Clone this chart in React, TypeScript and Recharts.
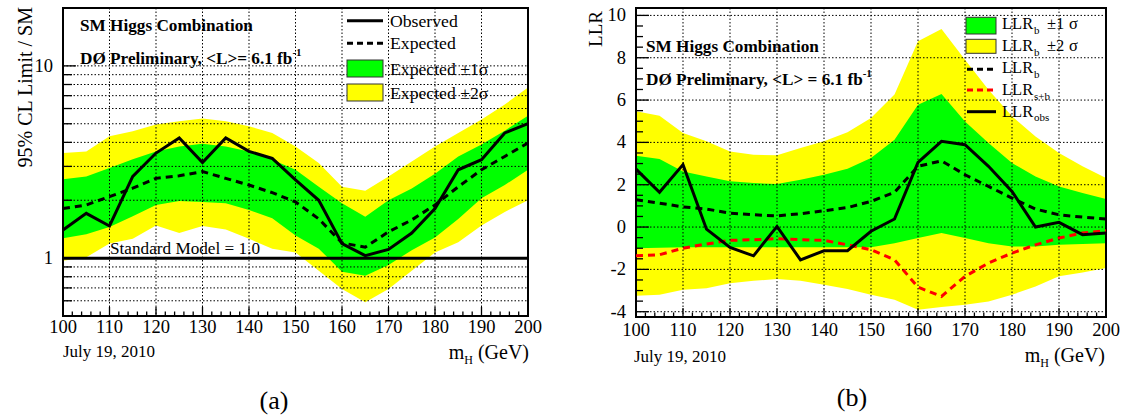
import React from 'react';
import {
  ComposedChart,
  Area,
  Line,
  XAxis,
  YAxis,
  CartesianGrid,
  ReferenceLine,
  ReferenceArea,
} from 'recharts';

const FONT = '"Liberation Serif", "DejaVu Serif", serif';

// Higgs mass points (GeV)
const MASS = [100, 105, 110, 115, 120, 125, 130, 135, 140, 145, 150, 155, 160, 165, 170, 175, 180, 185, 190, 195, 200];

// (a) 95% CL limit / SM
const OBS_A = [1.40, 1.71, 1.47, 2.66, 3.52, 4.22, 3.14, 4.22, 3.59, 3.30, 2.55, 2.00, 1.19, 1.03, 1.11, 1.35, 1.81, 2.88, 3.25, 4.48, 5.01];
const EXP_A = [1.81, 1.89, 2.09, 2.31, 2.60, 2.68, 2.82, 2.60, 2.40, 2.19, 1.96, 1.60, 1.20, 1.14, 1.37, 1.58, 1.89, 2.35, 2.88, 3.38, 3.97];
const S1_HI_A = [2.57, 2.66, 2.94, 3.27, 3.59, 3.81, 3.94, 3.81, 3.59, 3.25, 2.88, 2.35, 1.93, 1.64, 2.00, 2.30, 2.75, 3.38, 3.90, 4.60, 5.50];
const S1_LO_A = [1.27, 1.33, 1.45, 1.65, 1.89, 1.98, 1.96, 1.93, 1.78, 1.61, 1.31, 1.12, 0.85, 0.81, 0.92, 1.10, 1.28, 1.60, 2.05, 2.40, 2.88];
const S2_HI_A = [3.52, 3.59, 4.30, 4.57, 4.95, 5.15, 5.32, 5.15, 4.85, 4.48, 3.81, 3.12, 2.35, 2.24, 2.66, 3.18, 3.81, 4.48, 5.26, 6.30, 7.71];
const S2_LO_A = [0.97, 1.01, 1.19, 1.26, 1.48, 1.35, 1.47, 1.41, 1.26, 1.12, 1.07, 0.86, 0.69, 0.59, 0.69, 0.86, 1.07, 1.21, 1.48, 1.74, 2.00];

// (b) LLR
const OBS_B = [2.74, 1.64, 2.95, -0.10, -0.96, -1.36, 0.03, -1.55, -1.12, -1.12, -0.20, 0.38, 3.05, 4.05, 3.89, 2.87, 1.68, 0.00, 0.22, -0.36, -0.28];
const LLRB = [1.29, 1.13, 0.95, 0.85, 0.66, 0.58, 0.53, 0.63, 0.77, 0.92, 1.21, 1.64, 2.87, 3.13, 2.47, 1.92, 1.37, 0.85, 0.58, 0.47, 0.38];
const LLRSB = [-1.36, -1.31, -1.00, -0.80, -0.63, -0.60, -0.55, -0.60, -0.63, -0.84, -1.07, -1.55, -2.84, -3.28, -2.33, -1.70, -1.23, -0.84, -0.52, -0.28, -0.17];
const S1_HI_B = [3.37, 3.21, 2.63, 2.39, 2.16, 2.08, 2.03, 2.24, 2.47, 2.75, 3.26, 4.13, 5.78, 6.29, 4.99, 3.97, 3.03, 2.39, 1.92, 1.61, 1.32];
const S1_LO_B = [-1.00, -0.98, -0.96, -0.95, -0.95, -0.95, -0.95, -0.95, -0.95, -0.95, -0.96, -0.76, -0.52, -0.28, -0.52, -0.76, -0.92, -0.92, -0.84, -0.80, -0.76];
const S2_HI_B = [5.47, 5.26, 4.44, 4.05, 3.57, 3.42, 3.39, 3.73, 4.05, 4.48, 5.15, 6.26, 8.78, 9.36, 7.91, 6.49, 5.23, 4.28, 3.50, 2.87, 2.32];
const S2_LO_B = [-3.25, -3.20, -2.96, -2.89, -2.65, -2.54, -2.46, -2.54, -2.73, -2.93, -3.20, -3.44, -3.91, -3.78, -3.67, -3.52, -3.20, -2.81, -2.33, -2.15, -1.94];

// axis ticks
const X_MAJOR = [100, 110, 120, 130, 140, 150, 160, 170, 180, 190, 200];
const X_TICKS = Array.from({ length: 51 }, (_, i) => 100 + i * 2);
const Y_TICKS_A = [0.6, 0.7, 0.8, 0.9, 1, 2, 3, 4, 5, 6, 7, 8, 9, 10];
const Y_LABELS_A = [1, 10];
const Y_GRID_A = [0.6, 0.7, 0.8, 0.9, 2, 3, 4, 5, 6, 7, 8, 9, 10];
const Y_TICKS_B = Array.from({ length: 29 }, (_, i) => -4 + i * 0.5);
const Y_MAJOR_B = [-4, -2, 0, 2, 4, 6, 8, 10];
const X_GRID = [110, 120, 130, 140, 150, 160, 170, 180, 190];

const dataA = MASS.map((m, i) => ({
  m,
  s2: [S2_LO_A[i], S2_HI_A[i]],
  s1: [S1_LO_A[i], S1_HI_A[i]],
  obs: OBS_A[i],
  exp: EXP_A[i],
}));

const dataB = MASS.map((m, i) => ({
  m,
  s2: [S2_LO_B[i], S2_HI_B[i]],
  s1: [S1_LO_B[i], S1_HI_B[i]],
  obs: OBS_B[i],
  b: LLRB[i],
  sb: LLRSB[i],
}));

const makeXTick = (labelDy: number) => (p: any) => {
  const v = p.payload.value;
  const major = X_MAJOR.includes(v);
  return (
    <g>
      <line x1={p.x} x2={p.x} y1={p.y} y2={p.y - (major ? 9 : 4.5)} stroke="#000" strokeWidth={1.3} />
      {major && (
        <text x={p.x} y={p.y + labelDy} textAnchor="middle" fontSize={18.5} fontFamily={FONT} fill="#000">
          {v}
        </text>
      )}
    </g>
  );
};

const yTickA = (p: any) => {
  const v = p.payload.value;
  const major = Y_LABELS_A.includes(v);
  return (
    <g>
      <line x1={p.x} x2={p.x + (major ? 13 : 9)} y1={p.y} y2={p.y} stroke="#000" strokeWidth={1.3} />
      {major && (
        <text x={p.x - 10} y={p.y + 6} textAnchor="end" fontSize={18.5} fontFamily={FONT} fill="#000">
          {v}
        </text>
      )}
    </g>
  );
};

const yTickB = (p: any) => {
  const v = p.payload.value;
  const major = Y_MAJOR_B.includes(v);
  return (
    <g>
      <line x1={p.x} x2={p.x + (major ? 13 : 7)} y1={p.y} y2={p.y} stroke="#000" strokeWidth={1.3} />
      {major && (
        <text x={p.x - 10} y={p.y + 6} textAnchor="end" fontSize={18.5} fontFamily={FONT} fill="#000">
          {v}
        </text>
      )}
    </g>
  );
};

function LimitChart() {
  return (
    <ComposedChart width={560} height={419} data={dataA} margin={{ top: 8, right: 32, bottom: 0, left: 0 }}>
      <XAxis
        type="number"
        dataKey="m"
        domain={[100, 200]}
        ticks={X_TICKS}
        interval={0}
        tick={makeXTick(17)}
        tickSize={0}
        tickMargin={0}
        axisLine={false}
        tickLine={false}
        height={103}
      />
      <YAxis
        type="number"
        scale="log"
        domain={[0.5, 20]}
        allowDataOverflow
        ticks={Y_TICKS_A}
        interval={0}
        tick={yTickA}
        tickSize={0}
        tickMargin={0}
        axisLine={false}
        tickLine={false}
        width={63}
      />
      <Area dataKey="s2" type="linear" fill="#ffff00" fillOpacity={1} stroke="none" isAnimationActive={false} />
      <Area dataKey="s1" type="linear" fill="#00ff00" fillOpacity={1} stroke="none" isAnimationActive={false} />
      <CartesianGrid
        stroke="#000"
        strokeDasharray="1.5 2"
        horizontalValues={Y_GRID_A}
        verticalValues={X_GRID}
        zIndex={450}
      />
      <ReferenceLine y={1} stroke="#000" strokeWidth={3} />
      <Line dataKey="exp" type="linear" stroke="#000" strokeWidth={3} strokeDasharray="7 5" dot={false} isAnimationActive={false} />
      <Line dataKey="obs" type="linear" stroke="#000" strokeWidth={3} dot={false} isAnimationActive={false} />
      <ReferenceArea x1={100} x2={200} y1={0.5} y2={20} fill="none" stroke="#000" strokeWidth={2} ifOverflow="visible" />
    </ComposedChart>
  );
}

function LlrChart() {
  return (
    <ComposedChart width={561} height={419} data={dataB} margin={{ top: 8, right: 18, bottom: 0, left: 0 }}>
      <XAxis
        type="number"
        dataKey="m"
        domain={[100, 200]}
        ticks={X_TICKS}
        interval={0}
        tick={makeXTick(19)}
        tickSize={0}
        tickMargin={0}
        axisLine={false}
        tickLine={false}
        height={102}
      />
      <YAxis
        type="number"
        domain={[-4.25, 10.35]}
        allowDataOverflow
        ticks={Y_TICKS_B}
        interval={0}
        tick={yTickB}
        tickSize={0}
        tickMargin={0}
        axisLine={false}
        tickLine={false}
        width={73}
      />
      <Area dataKey="s2" type="linear" fill="#ffff00" fillOpacity={1} stroke="none" isAnimationActive={false} />
      <Area dataKey="s1" type="linear" fill="#00ff00" fillOpacity={1} stroke="none" isAnimationActive={false} />
      <CartesianGrid
        stroke="#000"
        strokeDasharray="1.5 2"
        horizontalValues={Y_MAJOR_B}
        verticalValues={X_GRID}
        zIndex={450}
      />
      <Line dataKey="b" type="linear" stroke="#000" strokeWidth={3} strokeDasharray="7 5" dot={false} isAnimationActive={false} />
      <Line dataKey="sb" type="linear" stroke="#ff0000" strokeWidth={3} strokeDasharray="7 5" dot={false} isAnimationActive={false} />
      <Line dataKey="obs" type="linear" stroke="#000" strokeWidth={3} dot={false} isAnimationActive={false} />
      <ReferenceArea x1={100} x2={200} y1={-4.25} y2={10.35} fill="none" stroke="#000" strokeWidth={2} ifOverflow="visible" />
    </ComposedChart>
  );
}

function LlrLabel({ y, sub, extra }: { y: number; sub: string; extra?: string }) {
  return (
    <text x={1002} y={y} fontSize={16.5} fontFamily={FONT} fill="#000">
      LLR<tspan x={1034} dy={4.5} fontSize={11}>{sub}</tspan>
      {extra && (
        <>
          <tspan x={1047} dy={-4.5}>{extra[0]}{extra[1]}</tspan>
          <tspan x={1069}>σ</tspan>
        </>
      )}
    </text>
  );
}

function Annotations() {
  const t = { fontFamily: FONT, fill: '#000' };
  return (
    <svg width={1124} height={419} style={{ position: 'absolute', left: 0, top: 0, pointerEvents: 'none' }}>
      {/* panel (a) */}
      <text {...t} transform="translate(32, 7) rotate(-90)" textAnchor="end" fontSize={20}>95% CL Limit / SM</text>
      <text {...t} x={80} y={30.5} fontSize={17.2} fontWeight="bold">SM Higgs Combination</text>
      <text {...t} x={80} y={63.5} fontSize={17.2} fontWeight="bold">
        DØ Preliminary, &lt;L&gt;= 6.1 fb<tspan dy={-8} fontSize={11}>-1</tspan>
      </text>
      <text {...t} x={110} y={254} fontSize={17.2}>Standard Model = 1.0</text>
      <line x1={347} x2={383} y1={20.7} y2={20.7} stroke="#000" strokeWidth={3} />
      <text {...t} x={390} y={26.5} fontSize={17.7}>Observed</text>
      <line x1={347} x2={383} y1={43.3} y2={43.3} stroke="#000" strokeWidth={3} strokeDasharray="6 4" />
      <text {...t} x={390} y={49} fontSize={17.7}>Expected</text>
      <rect x={347} y={60} width={36} height={17} fill="#00ff00" stroke="#333" strokeWidth={1} />
      <text {...t} x={390} y={74.5} fontSize={17.7}>Expected ±1σ</text>
      <rect x={347} y={84} width={36} height={17} fill="#ffff00" stroke="#333" strokeWidth={1} />
      <text {...t} x={390} y={99} fontSize={17.7}>Expected ±2σ</text>
      <text {...t} x={63} y={357} fontSize={17}>July 19, 2010</text>
      <text {...t} x={529} y={359} textAnchor="end" fontSize={20}>
        m<tspan dy={5} fontSize={12}>H</tspan><tspan dy={-5}> (GeV)</tspan>
      </text>
      <text {...t} x={274} y={409} textAnchor="middle" fontSize={26}>(a)</text>

      {/* panel (b) */}
      <text {...t} transform="translate(602, 11) rotate(-90)" textAnchor="end" fontSize={19}>LLR</text>
      <text {...t} x={646} y={51.5} fontSize={17.2} fontWeight="bold">SM Higgs Combination</text>
      <text {...t} x={646} y={85} fontSize={17.2} fontWeight="bold">
        DØ Preliminary, &lt;L&gt; = 6.1 fb<tspan dy={-8} fontSize={11}>-1</tspan>
      </text>
      <rect x={966} y={17.3} width={30} height={16.7} fill="#00ff00" stroke="#333" strokeWidth={1} />
      <LlrLabel y={29} sub="b" extra="±1" />
      <rect x={966} y={39.3} width={30} height={14} fill="#ffff00" stroke="#333" strokeWidth={1} />
      <LlrLabel y={51} sub="b" extra="±2" />
      <line x1={967} x2={993} y1={69.3} y2={69.3} stroke="#000" strokeWidth={3} strokeDasharray="6 4" />
      <LlrLabel y={73.3} sub="b" />
      <line x1={967} x2={993} y1={90} y2={90} stroke="#ff0000" strokeWidth={3} strokeDasharray="6 4" />
      <LlrLabel y={95} sub="s+b" />
      <line x1={967} x2={996} y1={111.7} y2={111.7} stroke="#000" strokeWidth={3} />
      <LlrLabel y={116.5} sub="obs" />
      <text {...t} x={634} y={362} fontSize={17}>July 19, 2010</text>
      <text {...t} x={1105} y={361.5} textAnchor="end" fontSize={20}>
        m<tspan dy={5} fontSize={12}>H</tspan><tspan dy={-5}> (GeV)</tspan>
      </text>
      <text {...t} x={852} y={406} textAnchor="middle" fontSize={26}>(b)</text>
    </svg>
  );
}

export default function App() {
  return (
    <div style={{ position: 'absolute', left: 0, top: 0, width: 1124, height: 419, background: '#fff', fontFamily: FONT }}>
      <div style={{ position: 'absolute', left: 0, top: 0 }}>
        <LimitChart />
      </div>
      <div style={{ position: 'absolute', left: 563, top: 0 }}>
        <LlrChart />
      </div>
      <Annotations />
    </div>
  );
}
